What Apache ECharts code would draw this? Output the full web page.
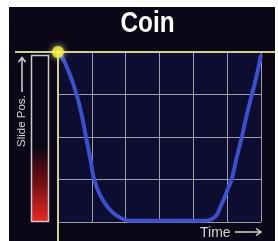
<!DOCTYPE html>
<html>
<head>
<meta charset="utf-8">
<script src="https://cdn.jsdelivr.net/npm/echarts@6/dist/echarts.min.js"></script>
<style>
  html, body { margin: 0; padding: 0; background: #ffffff; }
  #chart { width: 278px; height: 241px; }
</style>
</head>
<body>
<div id="chart"></div>
<script>
// slide position over time (x: 0..6 time units, y: 0..4 position units)
const timeVals = [0, 0.11, 0.35, 0.55, 0.70, 0.83, 0.95, 1.07, 1.24, 1.49, 1.78, 2.17, 4.24, 4.59, 4.83, 5.03, 5.13, 5.28, 5.43, 5.58, 5.73, 5.88, 5.99];
const posVals = [4, 3.9, 3.47, 3.0, 2.52, 1.99, 1.51, 1.0, 0.64, 0.33, 0.13, 0.03, 0.03, 0.09, 0.41, 0.8, 1.0, 1.51, 1.99, 2.52, 3.0, 3.47, 3.9];
const startPoint = [0, 4];
const xTicks = [0, 6, 1];
const yTicks = [0, 4, 1];

const chart = echarts.init(document.getElementById("chart"));

const lineData = timeVals.map((t, i) => [t, posVals[i]]);
const gridCol = "#9c9cab";
const yellow = "#d0d088";
const txtCol = "#d6d6d6";

chart.setOption({
  animation: false,
  backgroundColor: "#ffffff",
  grid: {
    left: 58,
    right: 17,
    top: 52,
    bottom: 19,
    show: true,
    backgroundColor: "#0d0d31",
    borderWidth: 0,
  },
  xAxis: {
    type: "value",
    min: xTicks[0],
    max: xTicks[1],
    interval: xTicks[2],
    axisLine: { show: false },
    axisTick: { show: false },
    axisLabel: { show: false },
    splitLine: { show: true, lineStyle: { color: gridCol, width: 1 } },
  },
  yAxis: {
    type: "value",
    min: yTicks[0],
    max: yTicks[1],
    interval: yTicks[2],
    axisLine: { show: false },
    axisTick: { show: false },
    axisLabel: { show: false },
    splitLine: { show: true, lineStyle: { color: gridCol, width: 1 } },
  },
  graphic: [
    // dark panel
    { type: "rect", z: -10, shape: { x: 9, y: 7, width: 266, height: 234 }, style: { fill: "#0c0717" } },
    {
      type: "text",
      x: 147.5,
      y: 24,
      scaleX: 0.84,
      style: {
        text: "Coin",
        fill: "#ffffff",
        font: "bold 29px 'Liberation Sans', sans-serif",
        textAlign: "center",
        textVerticalAlign: "middle",
      },
    },
    // slide position bar
    {
      type: "rect",
      shape: { x: 31.5, y: 55.5, width: 17, height: 166 },
      style: {
        fill: new echarts.graphic.LinearGradient(0, 0, 0, 1, [
          { offset: 0, color: "#0c0717" },
          { offset: 0.55, color: "#0c0717" },
          { offset: 0.75, color: "#6a0e10" },
          { offset: 1, color: "#ee2a24" },
        ]),
        stroke: "#c9c9c9",
        lineWidth: 1.5,
      },
    },
    {
      type: "text",
      x: 16,
      y: 147,
      rotation: Math.PI / 2,
      style: {
        text: "Slide Pos.",
        fill: txtCol,
        font: "11.5px 'Liberation Sans', sans-serif",
        textVerticalAlign: "top",
      },
    },
    { type: "line", shape: { x1: 22, y1: 92, x2: 22, y2: 58 }, style: { stroke: txtCol, lineWidth: 1.5 } },
    { type: "polyline", shape: { points: [[18.5, 62], [22, 57.5], [25.5, 62]] }, style: { stroke: txtCol, lineWidth: 1.5, fill: null } },
    {
      type: "text",
      x: 200,
      y: 226,
      style: { text: "Time", fill: txtCol, font: "14px 'Liberation Sans', sans-serif" },
    },
    { type: "line", shape: { x1: 235, y1: 232, x2: 261, y2: 232 }, style: { stroke: txtCol, lineWidth: 1.5 } },
    { type: "polyline", shape: { points: [[256, 228.5], [261, 232], [256, 235.5]] }, style: { stroke: txtCol, lineWidth: 1.5, fill: null } },
    // yellow axes
    { type: "line", z: 50, shape: { x1: 15, y1: 52, x2: 275, y2: 52 }, style: { stroke: yellow, lineWidth: 2 } },
    { type: "line", z: 50, shape: { x1: 58, y1: 52, x2: 58, y2: 241 }, style: { stroke: yellow, lineWidth: 2 } },
  ],
  series: [
    {
      type: "line",
      data: lineData,
      smooth: 0.5,
      showSymbol: false,
      lineStyle: { color: "#3d4fcb", width: 4, cap: "round", join: "round" },
      z: 5,
    },
    {
      type: "scatter",
      data: [startPoint],
      symbolSize: 12,
      itemStyle: { color: "#f2f247", shadowColor: "#ffff99", shadowBlur: 6 },
      z: 60,
      zlevel: 1,
    },
  ],
});
</script>
</body>
</html>
